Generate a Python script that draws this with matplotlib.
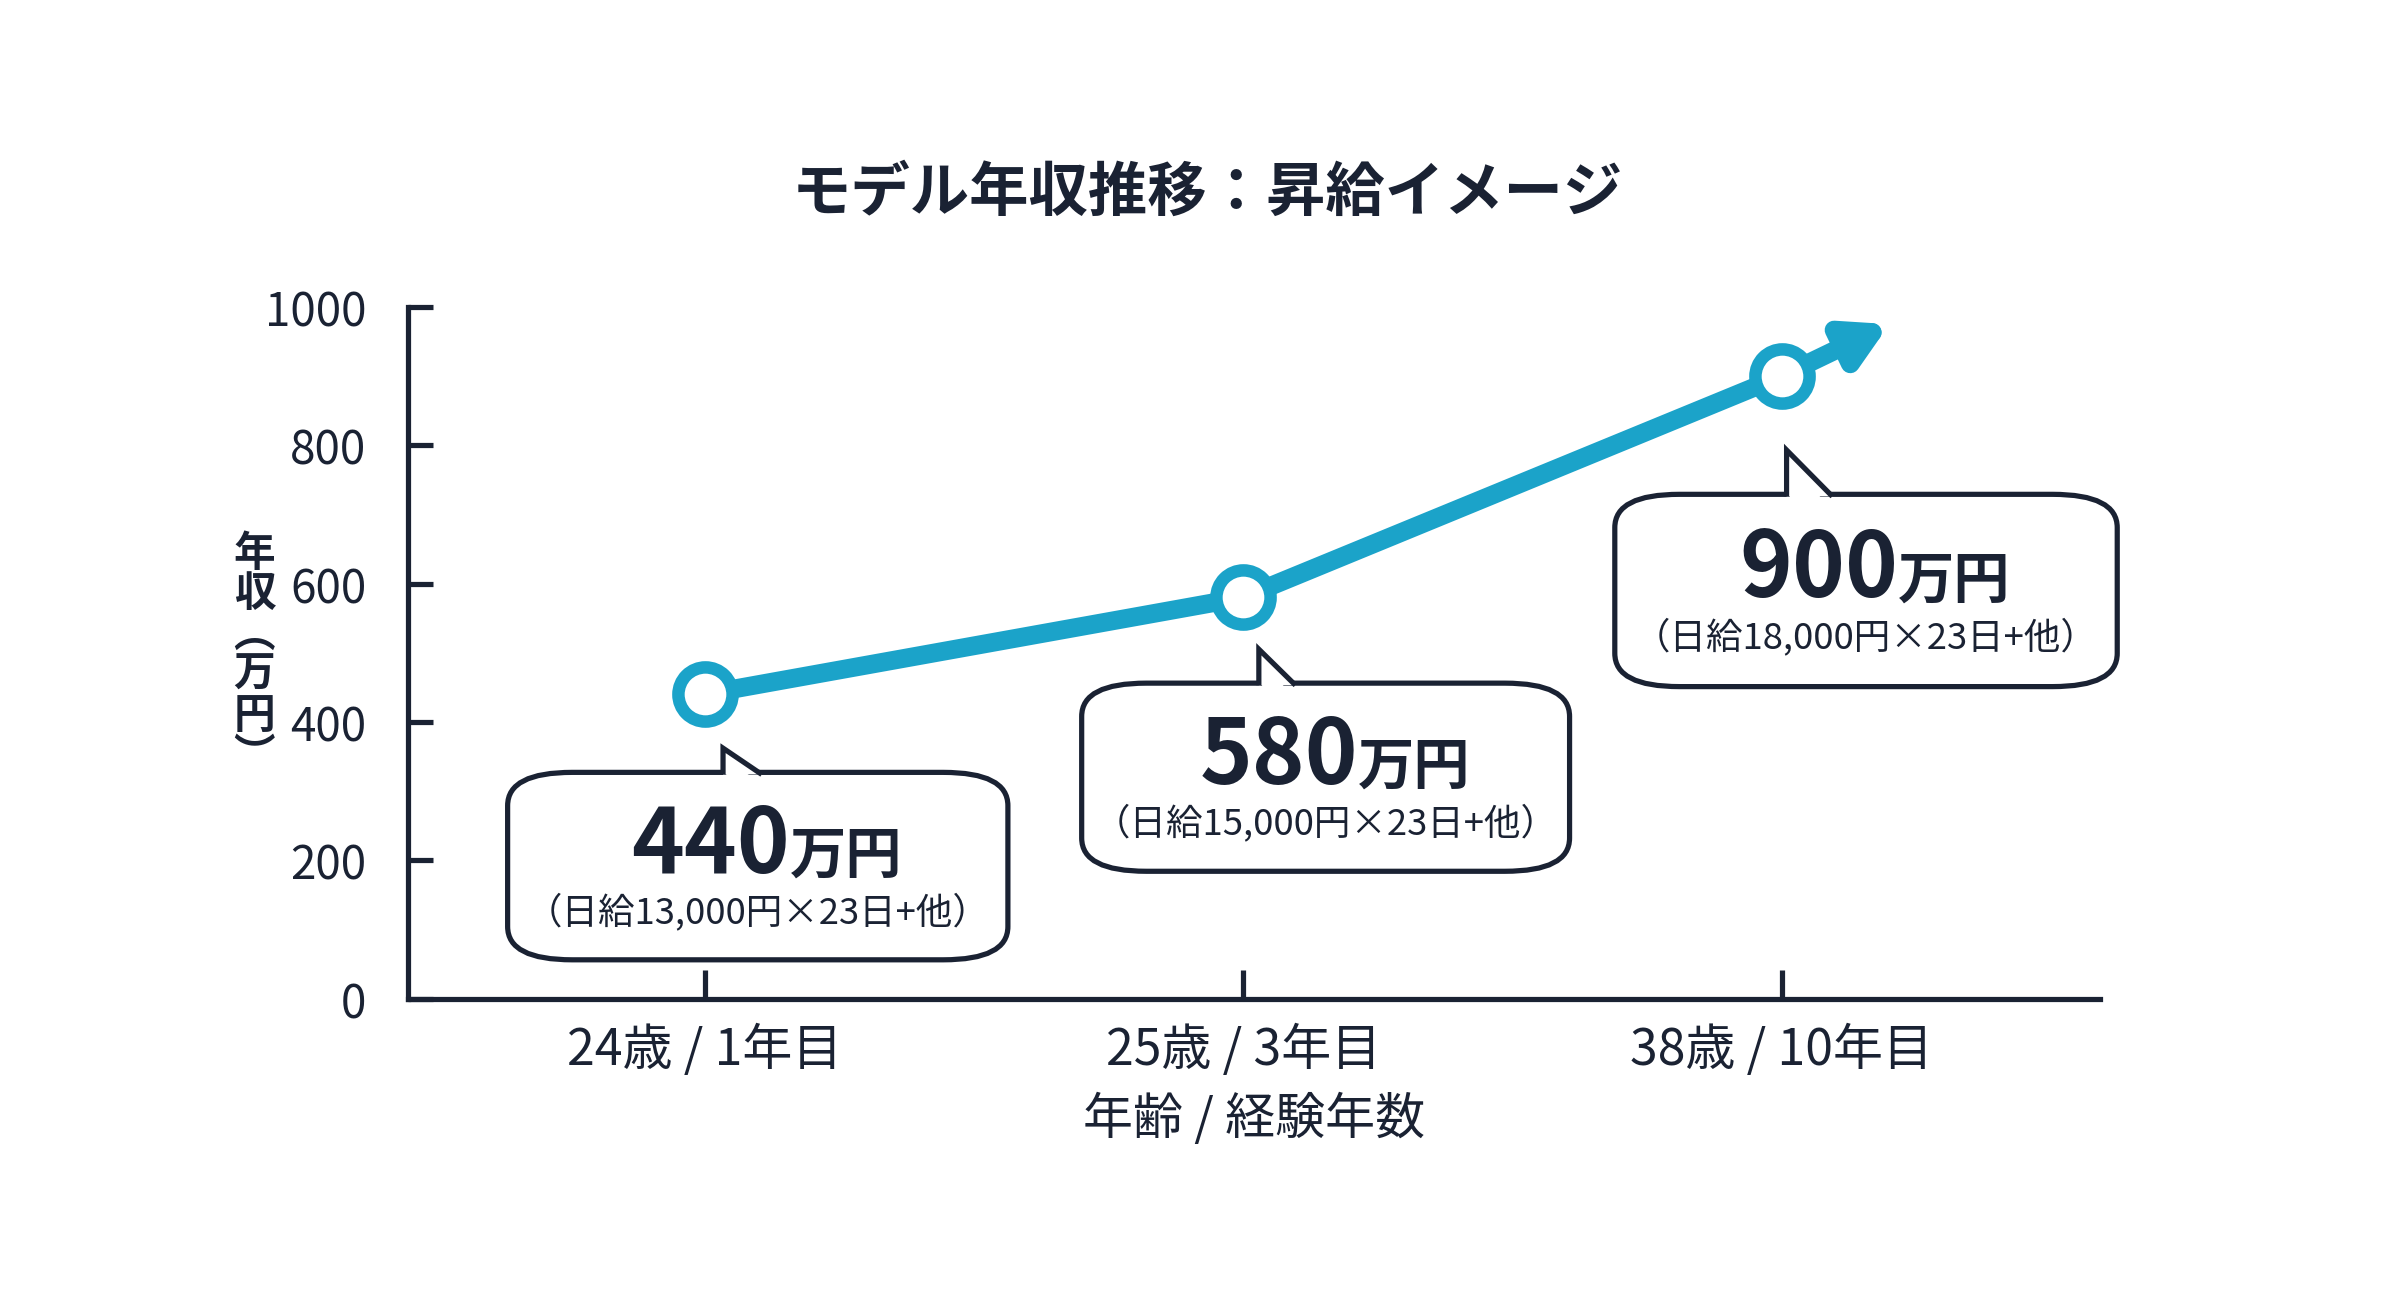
import matplotlib
matplotlib.use("Agg")
import matplotlib.pyplot as plt
from matplotlib.patches import FancyBboxPatch, Polygon

plt.rcParams['font.family'] = ['Noto Sans CJK JP', 'DejaVu Sans']

categories = ["24歳 / 1年目", "25歳 / 3年目", "38歳 / 10年目"]
values = [440, 580, 900]
main_labels = ["440", "580", "900"]
sub_labels = ["（日給13,000円×23日+他）", "（日給15,000円×23日+他）", "（日給18,000円×23日+他）"]
yticks = [0, 200, 400, 600, 800, 1000]

C = "#1ba3c9"
DARK = "#1a2233"
fig = plt.figure(figsize=(16, 8.733), dpi=150)
ax = fig.add_axes([0.170, 0.237, 0.705, 0.528])
xs = list(range(len(categories)))
ax.set_xlim(-0.551, 2.591)
ax.set_ylim(0, 1000)

ax.annotate("", xy=(2.2, 975), xytext=(xs[-1], values[-1]),
            arrowprops=dict(arrowstyle="-|>,head_length=1.6,head_width=0.9", color=C, lw=9,
                            shrinkA=0, shrinkB=0), annotation_clip=False, zorder=2)
ax.plot(xs, values, color=C, lw=9, solid_capstyle='round', zorder=3)
ax.plot(xs, values, 'o', ms=26, mfc='white', mec=C, mew=6, zorder=4)

boxes = [(-0.366, 0.563, 56, 327, 0.034, 362, 0.106),
         (0.70, 1.606, 184, 456, 1.029, 505, 1.097),
         (1.69, 2.623, 451, 729, 2.009, 793, 2.094)]
for i, (x0, x1, y0, y1, tx, ty, tx2) in enumerate(boxes):
    b = FancyBboxPatch((x0, y0), x1 - x0, y1 - y0,
                       boxstyle="round,pad=0,rounding_size=0.12", mutation_aspect=400,
                       fc='white', ec=DARK, lw=2.5, clip_on=False, zorder=5)
    ax.add_patch(b)
    ax.add_patch(Polygon([(tx, y1 - 3), (tx, ty), (tx2, y1 - 3)], closed=False,
                         fc='white', ec=DARK, lw=2.5, clip_on=False, zorder=6))
    ax.add_patch(Polygon([(tx + 0.006, y1 - 6), (tx + 0.006, ty - 15), (tx2 - 0.02, y1 - 6)],
                         fc='white', ec='none', clip_on=False, zorder=7))
    cx = (x0 + x1) / 2
    my = y0 + (y1 - y0) * 0.47
    ax.text(cx + 0.06, my, main_labels[i], ha='right', va='baseline', fontsize=43,
            fontweight='bold', color=DARK, zorder=8, clip_on=False)
    ax.text(cx + 0.06, my, "万円", ha='left', va='baseline', fontsize=27,
            fontweight='bold', color=DARK, zorder=8, clip_on=False)
    ax.text(cx, y0 + (y1 - y0) * 0.26, sub_labels[i], ha='center', va='center',
            fontsize=17.5, color=DARK, zorder=8, clip_on=False)

for s in ['top', 'right']:
    ax.spines[s].set_visible(False)
for s in ['left', 'bottom']:
    ax.spines[s].set_linewidth(2.5)
    ax.spines[s].set_color(DARK)
ax.set_yticks(yticks)
ax.set_xticks(xs)
ax.set_xticklabels(categories)
ax.tick_params(axis='y', direction='in', length=12, width=2.5, labelsize=22, colors=DARK, pad=20)
ax.tick_params(axis='x', direction='in', length=14, width=2.5, labelsize=24, colors=DARK, pad=12)
ax.set_xlabel("年齢 / 経験年数", fontsize=24, color=DARK, labelpad=8)
fig.text(0.106, 0.50, "年\n収\n︵\n万\n円\n︶", ha='center', va='center', fontsize=20,
         fontweight='bold', color=DARK, linespacing=0.95)
fig.text(0.503, 0.852, "モデル年収推移：昇給イメージ", ha='center', va='center',
         fontsize=28.5, fontweight='bold', color=DARK)
fig.savefig("out.png", dpi=150, facecolor='white')
